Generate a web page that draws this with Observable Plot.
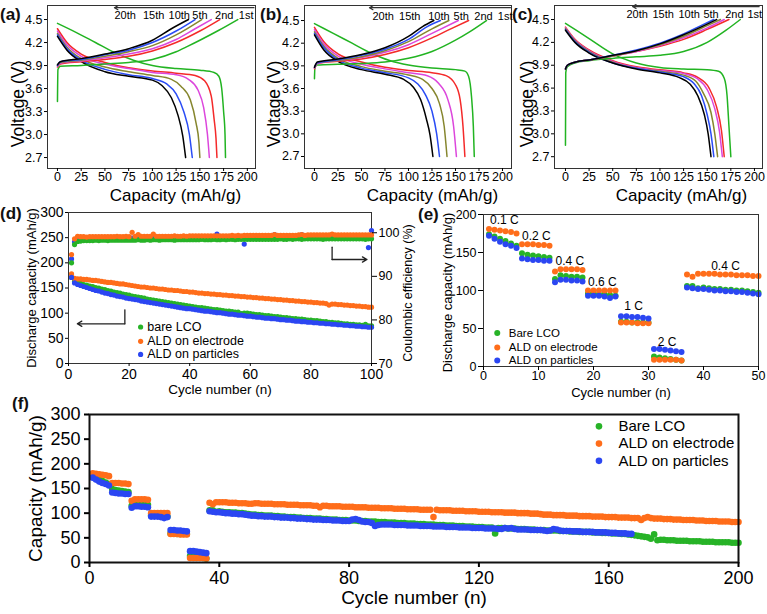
<!DOCTYPE html>
<html><head><meta charset="utf-8">
<script src="https://cdn.jsdelivr.net/npm/d3@7"></script>
<script src="https://cdn.jsdelivr.net/npm/@observablehq/plot@0.6"></script>
<style>
body{margin:0;background:#fff;}
#root{position:relative;width:767px;height:614px;overflow:hidden;background:#fff;font-family:"Liberation Sans",Arial,Helvetica,sans-serif;}
.panel{position:absolute;}
.tag{position:absolute;font-weight:bold;font-size:17px;line-height:17px;color:#111;}
</style></head><body><div id="root"></div>
<script>
// ---------- DATA ----------
const cycleLabels = ["1st","2nd","5th","10th","15th","20th"];
const capTicks = [0,25,50,75,100,125,150,175,200];
const voltTicks = [2.7,3.0,3.3,3.6,3.9,4.2,4.5];

// (a) bare LCO: discharge / charge curves [capacity, voltage], order = cycleLabels
const aDischarge = [
  [[0,4.45],[20,4.33],[40,4.2],[60,4.07],[80,3.97],[100,3.9],[125,3.86],[150,3.84],[165,3.81],[170,3.76],[173,3.6],[175,3.3],[176.5,3.0],[177,2.7]],
  [[0,4.38],[10,4.2],[25,4.05],[50,3.94],[75,3.87],[100,3.83],[125,3.8],[145,3.77],[155,3.7],[162,3.5],[165,3.2],[167,2.95],[168,2.7]],
  [[0,4.35],[10,4.17],[25,4.02],[50,3.92],[75,3.86],[100,3.81],[125,3.78],[138,3.72],[148,3.58],[154,3.35],[158,3.0],[160,2.7]],
  [[0,4.32],[10,4.14],[25,3.99],[50,3.88],[75,3.82],[100,3.77],[120,3.72],[130,3.63],[140,3.45],[146,3.15],[149,2.9],[150,2.7]],
  [[0,4.3],[10,4.12],[25,3.97],[50,3.85],[75,3.78],[100,3.73],[115,3.66],[125,3.53],[133,3.3],[139,3.0],[142,2.7]],
  [[0,4.28],[10,4.1],[25,3.95],[50,3.82],[75,3.76],[100,3.71],[110,3.64],[120,3.48],[127,3.25],[132,2.98],[135,2.7]]
];
const aCharge = [
  [[0,3.43],[0.5,3.85],[3,3.89],[25,3.9],[50,3.92],[75,3.94],[100,3.98],[125,4.08],[137,4.15],[150,4.23],[170,4.36],[190,4.5]],
  [[0,3.88],[3,3.92],[25,3.95],[50,3.98],[75,4.02],[100,4.09],[125,4.2],[150,4.35],[171,4.5]],
  [[0,3.89],[3,3.93],[25,3.96],[50,4.0],[75,4.05],[100,4.12],[125,4.24],[145,4.38],[162,4.5]],
  [[0,3.9],[3,3.94],[25,3.97],[50,4.02],[75,4.08],[100,4.16],[125,4.3],[152,4.5]],
  [[0,3.9],[3,3.95],[25,3.98],[50,4.04],[75,4.1],[100,4.2],[125,4.35],[145,4.5]],
  [[0,3.91],[3,3.95],[25,3.99],[50,4.05],[75,4.12],[100,4.23],[120,4.38],[138,4.5]]
];
// (b) ALD on electrode
const bDischarge = [
  [[0,4.46],[20,4.33],[40,4.2],[60,4.07],[80,3.97],[100,3.91],[125,3.87],[150,3.85],[160,3.83],[164,3.76],[167,3.5],[169,3.1],[170,2.7]],
  [[0,4.41],[10,4.22],[25,4.06],[50,3.95],[75,3.88],[100,3.84],[125,3.81],[140,3.77],[150,3.65],[155,3.45],[158,3.1],[160,2.7]],
  [[0,4.38],[10,4.19],[25,4.03],[50,3.92],[75,3.86],[100,3.81],[120,3.77],[132,3.67],[142,3.45],[148,3.1],[151,2.7]],
  [[0,4.35],[10,4.16],[25,4.0],[50,3.89],[75,3.83],[100,3.78],[115,3.72],[125,3.6],[133,3.4],[138,3.1],[141,2.7]],
  [[0,4.33],[10,4.14],[25,3.98],[50,3.87],[75,3.81],[100,3.74],[110,3.66],[118,3.52],[125,3.3],[130,3.0],[133,2.7]],
  [[0,4.31],[10,4.11],[25,3.96],[50,3.85],[75,3.79],[95,3.72],[105,3.62],[113,3.45],[119,3.2],[123,2.98],[126,2.7]]
];
const bCharge = [
  [[0,3.73],[0.5,3.88],[3,3.91],[25,3.92],[50,3.93],[75,3.95],[100,4.0],[125,4.09],[150,4.24],[165,4.35],[183,4.5]],
  [[0,3.86],[3,3.93],[25,3.96],[50,3.99],[75,4.05],[100,4.14],[125,4.27],[145,4.39],[164,4.5]],
  [[0,3.87],[3,3.93],[25,3.97],[50,4.01],[75,4.08],[100,4.18],[125,4.33],[153,4.5]],
  [[0,3.88],[3,3.94],[25,3.97],[50,4.02],[75,4.1],[100,4.22],[125,4.39],[143,4.5]],
  [[0,3.88],[3,3.94],[25,3.98],[50,4.04],[75,4.12],[100,4.25],[120,4.42],[134,4.5]],
  [[0,3.88],[3,3.95],[25,3.99],[50,4.05],[75,4.14],[100,4.29],[115,4.42],[127,4.5]]
];
// (c) ALD on particles
const cDischarge = [
  [[0,4.45],[25,4.25],[50,4.05],[75,3.93],[100,3.87],[125,3.85],[150,3.84],[162,3.82],[168,3.73],[171,3.5],[173,3.1],[175,2.7]],
  [[0,4.4],[10,4.24],[25,4.1],[50,3.96],[75,3.88],[100,3.84],[125,3.8],[140,3.74],[152,3.6],[160,3.35],[165,3.05],[168,2.7]],
  [[0,4.39],[10,4.23],[25,4.09],[50,3.95],[75,3.87],[100,3.83],[125,3.79],[140,3.72],[150,3.58],[158,3.33],[163,3.03],[166,2.7]],
  [[0,4.38],[10,4.22],[25,4.08],[50,3.94],[75,3.86],[100,3.82],[125,3.77],[138,3.69],[146,3.53],[154,3.28],[158,3.0],[161,2.7]],
  [[0,4.37],[10,4.21],[25,4.07],[50,3.93],[75,3.86],[100,3.81],[125,3.75],[136,3.66],[144,3.5],[150,3.25],[154,3.0],[157,2.7]],
  [[0,4.36],[10,4.2],[25,4.06],[50,3.93],[75,3.85],[100,3.8],[120,3.74],[132,3.65],[140,3.5],[147,3.25],[151,3.0],[154,2.7]]
];
const cCharge = [
  [[0,2.85],[0.3,3.8],[2,3.88],[10,3.93],[25,3.96],[50,3.99],[75,4.01],[100,4.03],[125,4.08],[150,4.2],[170,4.36],[185,4.5]],
  [[0,3.85],[2,3.9],[10,3.94],[25,3.97],[50,4.02],[75,4.08],[100,4.15],[125,4.24],[150,4.37],[173,4.5]],
  [[0,3.85],[2,3.9],[10,3.94],[25,3.97],[50,4.02],[75,4.08],[100,4.16],[125,4.26],[150,4.39],[168,4.5]],
  [[0,3.85],[2,3.9],[10,3.94],[25,3.97],[50,4.02],[75,4.09],[100,4.17],[125,4.28],[150,4.42],[164,4.5]],
  [[0,3.85],[2,3.9],[10,3.94],[25,3.97],[50,4.03],[75,4.1],[100,4.19],[125,4.31],[145,4.43],[157,4.5]],
  [[0,3.85],[2,3.9],[10,3.94],[25,3.97],[50,4.03],[75,4.09],[100,4.18],[125,4.3],[150,4.44],[160,4.5]]
];

// (d) discharge capacity (mAh/g), cycles 1..100
const dCapBare = [171,163,161,159,157,156,154,153,151,150,148,147,145,144,142,141,140,138,137,136,134,133,132,131,130,128,127,126,125,124,123,122,121,120,119,118,117,116,115,114,113,112,111,111,110,109,108,107,107,106,105,104,104,103,102,102,99,100,100,99,98,97,97,96,95,95,94,93,93,92,91,91,90,89,89,88,88,87,86,86,85,85,84,83,83,82,82,81,81,80,79,79,78,78,77,77,76,78,75,75];
const dCapElectrode = [178,169,168,168,167,167,166,165,165,164,163,162,161,161,160,159,158,158,157,156,155,154,153,152,152,151,150,150,149,148,148,147,146,146,145,145,144,143,143,142,142,141,140,140,139,139,138,138,137,137,136,136,135,135,134,134,133,133,132,132,131,131,130,130,129,129,128,128,127,127,126,126,125,125,124,124,123,123,122,122,121,121,120,120,119,116,118,118,117,117,116,116,115,115,114,114,113,113,112,112];
const dCapParticles = [171,160,157,155,153,151,149,147,145,144,142,140,139,137,136,134,133,132,130,129,128,127,126,124,123,122,121,120,119,118,117,116,115,114,113,112,111,110,109,109,108,107,106,105,104,104,103,102,101,101,100,99,98,98,97,96,96,95,94,94,93,92,92,91,90,90,89,89,88,87,87,86,86,85,84,84,83,83,82,82,81,81,80,80,79,79,78,78,77,77,76,76,75,75,74,74,73,73,72,72];
// (d) coulombic efficiency (%), cycles 1..100
const dCeBare = [93.1,97.3,98.0,98.1,98.2,98.2,98.2,98.2,98.3,98.2,98.3,98.3,98.2,98.3,98.3,98.3,98.3,98.3,98.3,98.3,98.3,98.3,98.4,98.3,98.3,98.4,98.3,98.4,98.4,98.3,98.4,98.4,98.4,98.4,98.3,98.4,98.4,98.4,98.4,98.4,98.4,98.4,98.4,98.5,98.4,98.4,98.4,98.5,98.4,98.4,98.5,98.4,98.5,98.5,98.4,98.5,98.5,98.5,98.5,98.5,98.5,98.5,98.5,98.5,98.5,98.5,98.5,98.5,98.5,98.6,98.5,98.5,98.6,98.5,98.6,98.6,98.5,98.6,98.6,98.6,98.6,98.6,98.6,98.5,98.6,98.6,98.6,98.6,98.6,98.6,98.6,98.6,98.6,98.6,98.6,98.6,98.6,98.5,98.6,98.6];
const dCeElectrode = [95.0,98.6,99.2,99.1,99.1,99.0,99.1,99.1,99.1,99.1,99.1,99.1,99.1,99.1,99.1,99.2,99.1,99.1,99.2,99.1,100.1,99.2,99.6,99.2,99.2,99.2,99.2,99.7,99.2,99.2,99.2,99.2,99.2,99.2,99.3,99.2,99.2,99.3,99.2,99.3,99.3,99.3,99.3,99.3,99.3,99.3,99.3,99.3,99.3,99.3,99.3,99.3,99.3,99.4,99.3,99.4,99.3,99.4,99.4,99.4,99.4,99.4,99.4,99.4,99.4,99.4,99.4,99.6,99.4,99.4,99.4,99.4,99.4,99.4,99.4,99.5,99.6,99.4,99.5,99.5,99.5,99.5,99.5,99.5,99.5,99.5,99.7,99.5,99.5,99.5,99.5,99.5,99.5,99.5,99.5,99.5,99.5,99.5,99.5,99.5];
const dCeParticles = [94.0,97.9,98.6,98.7,98.7,98.8,98.7,98.8,98.8,98.8,98.8,98.8,98.8,98.8,98.8,98.8,98.8,98.8,98.8,98.8,98.8,98.8,98.9,98.8,98.8,98.9,98.8,98.9,98.9,98.8,98.9,98.9,98.9,98.9,98.9,98.9,98.9,98.9,98.9,98.9,98.9,98.9,98.9,98.9,98.9,98.9,98.9,98.9,99.7,98.9,99.0,98.9,99.0,99.0,99.0,99.0,99.0,97.4,99.0,99.0,99.0,99.0,99.0,99.0,99.0,99.0,99.0,99.6,99.0,99.0,99.0,99.0,99.0,99.0,99.0,99.0,99.6,99.0,99.1,99.1,99.1,99.1,99.1,99.1,99.1,99.1,99.6,99.1,99.1,99.1,99.1,99.1,99.1,99.1,99.1,99.1,99.1,99.1,96.6,100.5];

// (e) rate capability, cycles 1..50
const eBare = [174,171,168,165,162,159,149,147,146,145,144,143,115,120,119,118,118,117,96,96,95,95,94,93,59,59,58,58,58,58,13,12,11,10,9,8,106,106,103,104,103,102,102,101,101,100,100,99,98,97];
const eElectrode = [181,180,179,178,177,175,161,161,161,160,160,159,125,128,128,128,128,127,100,100,100,100,100,100,58,58,58,57,57,57,9,9,9,9,9,8,121,118,122,122,122,122,121,121,121,120,120,120,119,119];
const eParticles = [172,168,164,161,159,156,142,141,140,140,139,139,111,114,114,113,113,112,93,93,93,92,90,92,66,66,65,65,64,63,23,23,22,21,20,19,104,103,102,102,101,100,100,99,99,98,98,97,96,95];
const rateLabels = ["0.1 C","0.2 C","0.4 C","0.6 C","1 C","2 C","0.4 C"];

// (f) long cycling: cycles 1..50 as in (e), then these from cycle 51
const fBareFrom51 = [97,96,96,95,95,95,94,94,93,93,92,92,92,91,91,90,90,90,89,89,89,88,88,87,87,87,86,86,86,85,85,85,84,84,84,83,83,83,82,82,82,81,81,81,80,80,80,79,79,79,78,78,78,77,77,77,76,76,76,75,75,75,74,74,74,73,73,73,72,72,72,71,71,71,59,70,70,70,69,69,69,68,68,68,67,67,67,66,66,66,65,65,65,65,64,64,64,63,63,63,62,62,62,62,61,61,61,60,60,60,59,59,59,58,58,57,56,55,54,53,52,51,48,57,45,46,46,45,45,45,44,44,44,44,43,43,43,43,42,42,42,42,41,41,41,41,41,40,40,40];
const fElectrodeFrom51 = [120,120,119,119,119,119,118,118,118,118,117,117,117,117,116,116,116,116,115,115,112,115,115,114,114,114,114,113,113,113,113,112,112,112,112,111,111,111,111,110,110,110,110,109,109,109,109,108,108,108,108,107,107,107,107,92,107,106,106,106,106,105,105,105,105,104,104,104,104,103,103,103,103,102,102,102,102,101,101,101,101,100,100,100,100,99,99,99,98,97,97,97,96,96,96,96,95,95,95,95,94,94,94,94,93,93,93,93,92,92,92,92,91,91,91,91,90,90,90,86,90,92,90,89,89,89,88,88,88,87,87,87,86,86,86,86,85,85,85,84,84,84,84,83,83,83,83,82,82,82];
const fParticlesFrom51 = [95,94,94,93,93,93,92,92,91,91,91,90,90,89,89,89,88,88,87,87,87,86,86,86,85,85,85,84,84,84,87,88,86,83,82,82,80,74,76,77,77,77,77,76,76,76,76,75,75,75,75,74,74,74,74,73,73,73,73,72,72,72,72,71,71,71,71,70,70,70,70,69,69,69,69,68,68,70,69,70,68,67,67,67,67,66,66,66,66,65,64,65,68,67,65,64,64,64,63,63,63,62,62,62,62,61,61,61,61,60,60,60,59,59,59,58,58];

const seriesKeys = ["bare","electrode","particles"];
const dLegend = ["bare LCO","ALD on electrode","ALD on particles"];
const efLegend = ["Bare LCO","ALD on electrode","ALD on particles"];

// ---------- STYLE / LAYOUT ----------
const cycleColors = ["#22b422","#f42a2a","#dc46dc","#86862e","#2a4cf5","#000000"];
const seriesColors = ["#27b327","#ff6d1a","#2b46f2"];
const FONT = '"Liberation Sans", Arial, Helvetica, sans-serif';
const baseStyle = {fontFamily: FONT, background: "transparent", color: "#000", overflow: "visible"};
const root = document.getElementById("root");
function mount(node, left, top, w, h) {
  const div = document.createElement("div");
  div.className = "panel";
  div.style.left = left + "px"; div.style.top = top + "px";
  div.style.width = w + "px"; div.style.height = h + "px";
  div.appendChild(node); root.appendChild(div);
}
function tag(t, left, top) {
  const d = document.createElement("div");
  d.className = "tag"; d.textContent = t;
  d.style.left = left + "px"; d.style.top = top + "px";
  root.appendChild(d);
}
// axis titles: centred text, placed relative to the frame
const xTitle = (t, dx, dy, fontSize) => Plot.text([t], {frameAnchor: "bottom", dx, dy, fontSize, textAnchor: "middle", lineAnchor: "middle"});
const yTitle = (t, side, dx, dy, fontSize) => Plot.text([t], {frameAnchor: side, dx, dy, rotate: -90, fontSize, textAnchor: "middle", lineAnchor: "middle"});

// ---------- (a)(b)(c) ----------
function voltagePanel(dis, chg, g) {
  const rows = [];
  dis.forEach((pts, i) => pts.forEach(([x, y]) => rows.push({x, y, cycle: cycleLabels[i], id: "d" + i})));
  chg.forEach((pts, i) => pts.forEach(([x, y]) => rows.push({x, y, cycle: cycleLabels[i], id: "c" + i})));
  const legend = cycleLabels.slice().reverse().map((t, i) => ({t, x: g.legendX[i]}));
  return Plot.plot({
    width: g.w, height: 200,
    marginLeft: g.ml, marginRight: g.mr, marginTop: 5, marginBottom: 32,
    x: {domain: g.xd, axis: null},
    y: {domain: g.yd, axis: null},
    color: {domain: cycleLabels, range: cycleColors},
    style: baseStyle,
    marks: [
      Plot.line(rows, {x: "x", y: "y", z: "id", stroke: "cycle", strokeWidth: 1.5, curve: "monotone-x"}),
      Plot.frame({stroke: "#333", strokeWidth: 1}),
      Plot.axisX({ticks: capTicks, tickSize: 3, tickPadding: 1, fontSize: 12.5, label: null}),
      Plot.axisY({ticks: voltTicks, tickFormat: d3.format(".1f"), tickSize: 3, tickPadding: 2, fontSize: 12.5, label: null}),
      xTitle("Capacity (mAh/g)", g.xtdx, 27.5, 17),
      yTitle("Voltage (V)", "left", g.ydx, 17, 17.5),
      Plot.text(legend, {x: "x", y: g.legendY, text: "t", textAnchor: "start", fontSize: 11}),
      Plot.arrow([0], {x1: g.arrow[1], x2: g.arrow[0], y1: g.arrowY, y2: g.arrowY, headLength: 5, strokeWidth: 1.2, stroke: "#333"})
    ]
  });
}
mount(voltagePanel(aDischarge, aCharge, {w: 258, ml: 47, mr: 3, xd: [-10.5, 208.6], yd: [2.557, 4.683], ydx: -29.5, xtdx: 24,
  legendX: [60, 90, 117, 142, 166, 191], legendY: 4.55, arrow: [60, 207], arrowY: 4.655}), 0, 0, 258, 200);
mount(voltagePanel(bDischarge, bCharge, {w: 257, ml: 47, mr: 3, xd: [-10.6, 209.6], yd: [2.541, 4.699], ydx: -30, xtdx: 24.5,
  legendX: [61.7, 90, 121, 148, 170, 195], legendY: 4.56, arrow: [58.5, 208.5], arrowY: 4.67}), 257, 0, 257, 200);
mount(voltagePanel(cDischarge, cCharge, {w: 257, ml: 44, mr: 5, xd: [-11.6, 208.5], yd: [2.545, 4.684], ydx: -27.5, xtdx: 23,
  legendX: [64.5, 92, 119.6, 146, 169, 192.6], legendY: 4.56, arrow: [71, 205], arrowY: 4.67}), 510, 0, 257, 200);

// ---------- (d) ----------
const toRows = (vals, series) => vals.map((v, i) => ({cycle: i + 1, value: v, series}));
const dCapRows = [...toRows(dCapBare, "bare"), ...toRows(dCapElectrode, "electrode"), ...toRows(dCapParticles, "particles")];
const dCeRows = [...toRows(dCeParticles, "particles"), ...toRows(dCeBare, "bare"), ...toRows(dCeElectrode, "electrode")];
const dLegRows = seriesKeys.map((k, i) => ({k, t: dLegend[i], y: [72.5, 44, 18][i]}));
const dGeom = {width: 420, height: 200, marginLeft: 68, marginRight: 49, marginTop: 17, marginBottom: 32};
mount(Plot.plot({
  ...dGeom,
  x: {domain: [0, 100], axis: null},
  y: {domain: [0, 300], axis: null},
  color: {domain: seriesKeys, range: seriesColors},
  style: baseStyle,
  marks: [
    Plot.dot(dCapRows, {x: "cycle", y: "value", fill: "series", r: 2.6}),
    Plot.frame({stroke: "#333"}),
    Plot.axisX({ticks: [0, 20, 40, 60, 80, 100], tickSize: 3, tickPadding: 3, fontSize: 14, label: null}),
    Plot.axisY({ticks: [0, 50, 100, 150, 200, 250, 300], tickSize: 3, tickPadding: 2, fontSize: 14, label: null}),
    xTitle("Cycle number (n)", 0, 26, 13.5),
    yTitle("Discharge capacity (mAh/g)", "left", -37, 0, 13),
    Plot.line([[18.6, 106.7], [18.6, 78.9]], {stroke: "#222", strokeWidth: 1.3}),
    Plot.arrow([0], {x1: 18.6, x2: 2.9, y1: 78.9, y2: 78.9, headLength: 6, strokeWidth: 1.3, stroke: "#222"}),
    Plot.line([[87, 231], [87, 206.6]], {stroke: "#222", strokeWidth: 1.3}),
    Plot.arrow([0], {x1: 87, x2: 98.5, y1: 206.6, y2: 206.6, headLength: 6, strokeWidth: 1.3, stroke: "#222"}),
    Plot.dot(dLegRows, {x: 23.8, y: "y", fill: "k", r: 2.6}),
    Plot.text(dLegRows, {x: 26, y: "y", text: "t", textAnchor: "start", fontSize: 12.5})
  ]
}), 0, 195, 420, 200);
mount(Plot.plot({
  ...dGeom,
  x: {domain: [0, 100], axis: null},
  y: {domain: [70, 104.65], axis: null},
  color: {domain: seriesKeys, range: seriesColors},
  style: baseStyle,
  marks: [
    Plot.dot(dCeRows, {x: "cycle", y: "value", fill: "series", r: 2.6}),
    Plot.axisY({anchor: "right", ticks: [70, 80, 90, 100], tickSize: 5, tickPadding: 2, fontSize: 12.5, label: null}),
    yTitle("Coulombic efficiency (%)", "right", 36, 5, 12.5)
  ]
}), 0, 195, 420, 200);

// ---------- (e) ----------
const eRows = [...toRows(eBare, "bare"), ...toRows(eElectrode, "electrode"), ...toRows(eParticles, "particles")];
const ePos = {x: [3.8, 9.6, 15.7, 21.6, 27.3, 33.4, 44], y: [192, 171, 139, 111, 79, 32, 132]};
const eRateRows = rateLabels.map((t, i) => ({t, x: ePos.x[i], y: ePos.y[i]}));
const eLegRows = seriesKeys.map((k, i) => ({k, t: efLegend[i], y: [44, 25, 8][i]}));
mount(Plot.plot({
  width: 367, height: 200, marginLeft: 83, marginRight: 9, marginTop: 19, marginBottom: 29,
  x: {domain: [0, 50], axis: null},
  y: {domain: [0, 200], axis: null},
  color: {domain: seriesKeys, range: seriesColors},
  style: baseStyle,
  marks: [
    Plot.dot(eRows, {x: "cycle", y: "value", fill: "series", r: 3}),
    Plot.frame({stroke: "#333"}),
    Plot.axisX({ticks: [0, 10, 20, 30, 40, 50], tickSize: 4, tickPadding: 1, fontSize: 12.5, label: null}),
    Plot.axisY({ticks: [0, 50, 100, 150, 200], tickSize: 5, tickPadding: 2, fontSize: 12.5, label: null}),
    xTitle("Cycle number (n)", 0, 26, 13),
    yTitle("Discharge capacity (mAh/g)", "left", -36, 2, 13),
    Plot.text(eRateRows, {x: "x", y: "y", text: "t", fontSize: 12}),
    Plot.dot(eLegRows, {x: 2.5, y: "y", fill: "k", r: 3}),
    Plot.text(eLegRows, {x: 4.6, y: "y", text: "t", textAnchor: "start", fontSize: 11.5})
  ]
}), 400, 195, 367, 200);

// ---------- (f) ----------
const fRows = [
  ...toRows(eBare.concat(fBareFrom51), "bare"),
  ...toRows(eElectrode.concat(fElectrodeFrom51), "electrode"),
  ...toRows(eParticles.concat(fParticlesFrom51), "particles")
];
const fLegRows = seriesKeys.map((k, i) => ({k, t: efLegend[i], y: [276, 241, 206][i]}));
mount(Plot.plot({
  width: 767, height: 219, marginLeft: 89, marginRight: 29, marginTop: 19, marginBottom: 52,
  x: {domain: [0, 200], axis: null},
  y: {domain: [0, 300], axis: null},
  color: {domain: seriesKeys, range: seriesColors},
  style: baseStyle,
  marks: [
    Plot.dot(fRows, {x: "cycle", y: "value", fill: "series", r: 3.3}),
    Plot.frame({stroke: "#111", strokeWidth: 2}),
    Plot.axisX({ticks: [0, 40, 80, 120, 160, 200], tickSize: 5, tickPadding: 4, fontSize: 18, strokeWidth: 2, label: null}),
    Plot.axisY({ticks: [0, 50, 100, 150, 200, 250, 300], tickSize: 5, tickPadding: 4, fontSize: 18, strokeWidth: 2, label: null}),
    xTitle("Cycle number (n)", 0, 35, 19),
    yTitle("Capacity (mAh/g)", "left", -54, 0, 19),
    Plot.dot(fLegRows, {x: 157, y: "y", fill: "k", r: 3.3}),
    Plot.text(fLegRows, {x: 163, y: "y", text: "t", textAnchor: "start", fontSize: 15})
  ]
}), 0, 395, 767, 219);

// ---------- panel tags ----------
tag("(a)", 0, 6); tag("(b)", 260, 6); tag("(c)", 512, 6);
tag("(d)", 0, 205); tag("(e)", 418, 206); tag("(f)", 12, 395);
</script></body></html>
